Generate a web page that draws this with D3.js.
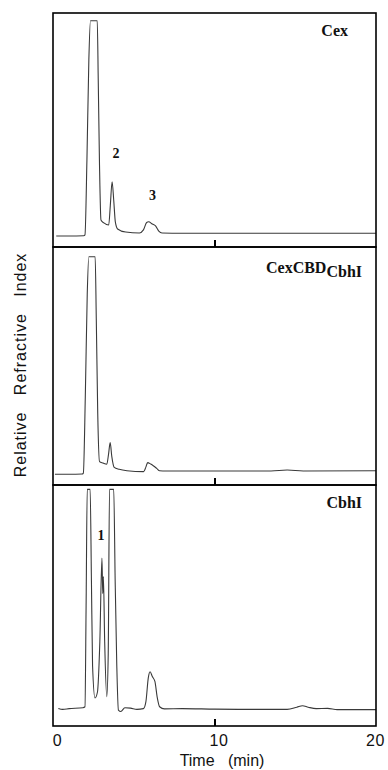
<!DOCTYPE html>
<html>
<head>
<meta charset="utf-8">
<script src="https://cdn.jsdelivr.net/npm/d3@7/dist/d3.min.js"></script>
<style>
  html, body { margin: 0; padding: 0; background: #fff; }
  svg { display: block; }
</style>
</head>
<body>
<svg id="chart" width="388" height="770"></svg>
<script>
// ---------- DATA ----------
const panelNames = ["Cex", "CexCBD", "CbhI"];
const panelSubs  = ["", "CbhI", ""];

const cexTime   = [0.2, 1.0, 1.9, 1.98, 2.1, 2.22, 2.32, 2.74, 2.8, 2.88, 2.97, 3.15, 3.45, 3.55, 3.66, 3.76, 3.86, 4.0, 4.5, 5.35, 5.6, 5.8, 5.92, 6.15, 6.35, 6.55, 6.75, 8, 12, 16, 20];
const cexSignal = [4.7, 4.7, 4.8, 5.2, 37, 80, 96.7, 96.7, 72, 35, 11.5, 10.3, 9.4, 17.9, 27.9, 20, 10.7, 7.7, 6.4, 6.0, 7.3, 10.5, 10.8, 9.8, 9.0, 6.8, 6.0, 5.9, 5.9, 5.9, 5.9];

const cbdTime   = [0.12, 1.0, 1.8, 1.88, 2.0, 2.12, 2.22, 2.61, 2.68, 2.77, 2.88, 3.1, 3.33, 3.44, 3.54, 3.64, 3.79, 4.1, 4.58, 5.61, 5.75, 5.86, 6.05, 6.23, 6.42, 6.6, 7.0, 10, 13.5, 14.5, 15.5, 20];
const cbdSignal = [4.5, 4.5, 4.6, 5.0, 37, 80, 95.9, 95.9, 70, 30, 9.8, 9.2, 8.7, 13, 17.8, 12, 7.4, 6.6, 6.0, 5.6, 7.5, 9.4, 8.8, 8.0, 7.0, 6.0, 5.9, 5.9, 5.9, 6.3, 5.9, 6.0];

const cbhTime   = [0.33, 0.6, 1.0, 1.85, 1.98, 2.05, 2.12, 2.3, 2.38, 2.45, 2.6, 2.75, 2.9, 3.03, 3.08, 3.12, 3.2, 3.33, 3.42, 3.5, 3.76, 3.85, 3.95, 4.05, 4.2, 4.45, 4.8, 5.2, 5.6, 5.75, 5.9, 6.01, 6.15, 6.31, 6.45, 6.6, 6.9, 8, 10, 12, 14.5, 15.1, 15.45, 15.8, 16.3, 17, 17.6, 20];
const cbhSignal = [7.3, 6.9, 7.2, 7.6, 8, 50, 98.2, 98.2, 60, 25, 11.6, 14, 35, 69.7, 55, 62, 35, 12.2, 30, 98.2, 98.2, 60, 25, 6.6, 6.0, 7.6, 7.4, 6.9, 7.2, 10, 20, 22.5, 20.5, 18.5, 12, 8.0, 7.1, 7.2, 7.0, 6.9, 6.9, 7.8, 8.4, 7.8, 7.2, 7.3, 6.8, 6.8];

const seriesTimes   = [cexTime, cbdTime, cbhTime];
const seriesSignals = [cexSignal, cbdSignal, cbhSignal];

// peak labels: panel index, label, time, signal
const peakPanel = [0, 0, 2];
const peakText  = ["2", "3", "1"];
const peakTime  = [3.9, 6.16, 2.97];
const peakValue = [38.0, 20.1, 77.2];

const tickValues = [0, 10, 20];
const tickLabels = ["0", "10", "20"];
const xLabel = "Time   (min)";
const yLabel = "Relative   Refractive   Index";

// ---------- LAYOUT ----------
const svg = d3.select("#chart");
const left = 53, right = 376;
const panelTops    = [13, 247, 485];
const panelBottoms = [247, 485, 726];

const x = d3.scaleLinear().domain([0, 20]).range([left, right]);

const serif = "'Liberation Serif', 'Times New Roman', serif";
const sans  = "'Liberation Sans', Arial, sans-serif";

panelNames.forEach((name, i) => {
  const top = panelTops[i], bottom = panelBottoms[i];
  const y = d3.scaleLinear().domain([0, 100]).range([bottom, top]);
  const g = svg.append("g");

  const clipId = "clip" + i;
  svg.append("clipPath").attr("id", clipId)
    .append("rect").attr("x", left).attr("y", top).attr("width", right - left).attr("height", bottom - top);

  const pts = seriesTimes[i].map((t, k) => [t, seriesSignals[i][k]]);
  const line = d3.line().x(d => x(d[0])).y(d => y(d[1])).curve(d3.curveMonotoneX);
  g.append("path")
    .attr("d", line(pts))
    .attr("clip-path", `url(#${clipId})`)
    .attr("fill", "none")
    .attr("stroke", "#3a3a3a")
    .attr("stroke-width", 1.1);

  g.append("rect")
    .attr("x", left).attr("y", top)
    .attr("width", right - left).attr("height", bottom - top)
    .attr("fill", "none").attr("stroke", "#000").attr("stroke-width", 1.6);

  const axis = d3.axisBottom(x)
    .tickValues(i === 2 ? tickValues : [10])
    .tickSizeInner(-7).tickSizeOuter(0).tickPadding(9)
    .tickFormat((d) => i === 2 ? tickLabels[tickValues.indexOf(d)] : "");
  const ag = g.append("g").attr("transform", `translate(0,${bottom})`).call(axis);
  ag.select(".domain").remove();
  ag.selectAll(".tick line")
    .attr("stroke", "#000").attr("stroke-width", 2)
    .attr("opacity", d => d === 10 ? 1 : 0);
  ag.selectAll(".tick text")
    .attr("fill", "#111")
    .attr("dx", d => d === 20 ? -1 : 4)
    .style("font-family", sans)
    .style("font-size", "16px")
    .style("letter-spacing", "0.5px");

  const txt = g.append("text")
    .attr("x", i === 0 ? 348 : 362)
    .attr("y", i === 1 ? top + 26 : top + 23)
    .attr("text-anchor", "end")
    .style("font-family", serif)
    .style("font-weight", "bold")
    .style("font-size", "16px")
    .attr("fill", "#111");
  txt.append("tspan").text(name);
  if (panelSubs[i]) {
    txt.append("tspan").attr("dy", 4).text(panelSubs[i]);
  }
});

peakText.forEach((lab, k) => {
  const p = peakPanel[k];
  const y = d3.scaleLinear().domain([0, 100]).range([panelBottoms[p], panelTops[p]]);
  svg.append("text")
    .attr("x", x(peakTime[k]))
    .attr("y", y(peakValue[k]))
    .attr("text-anchor", "middle")
    .style("font-family", serif)
    .style("font-weight", "bold")
    .style("font-size", "14px")
    .attr("fill", "#111")
    .text(lab);
});

svg.append("text")
  .attr("x", 222).attr("y", 766)
  .attr("text-anchor", "middle")
  .style("font-family", sans)
  .style("font-size", "16px")
  .style("white-space", "pre")
  .attr("fill", "#111")
  .text(xLabel);

svg.append("text")
  .attr("transform", "translate(26,365) rotate(-90)")
  .attr("text-anchor", "middle")
  .style("font-family", sans)
  .style("font-size", "16px")
  .style("letter-spacing", "1px")
  .style("white-space", "pre")
  .attr("fill", "#111")
  .text(yLabel);
</script>
</body>
</html>
